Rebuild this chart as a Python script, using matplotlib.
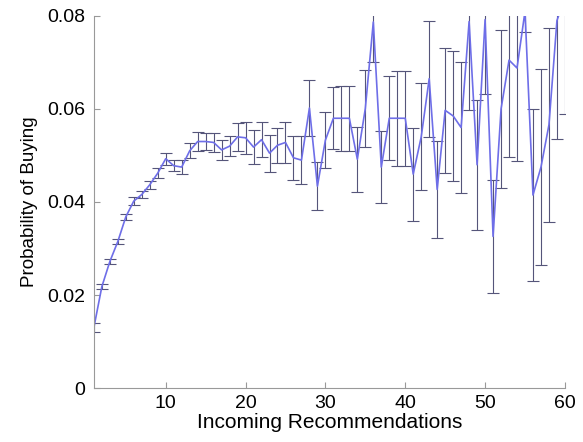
import matplotlib.pyplot as plt

plt.rcParams['font.family'] = ['Liberation Sans', 'DejaVu Sans']

# Data
recs = list(range(1, 61))
prob = [0.0130, 0.0218, 0.0272, 0.0315, 0.0368, 0.0402, 0.0416, 0.0437, 0.0462, 0.0493,
        0.0478, 0.0475, 0.0510, 0.0530, 0.0530, 0.0528, 0.0512, 0.0520, 0.0540, 0.0538,
        0.0518, 0.0534, 0.0505, 0.0522, 0.0528, 0.0495, 0.0490, 0.0602, 0.0434, 0.0533,
        0.0580, 0.0580, 0.0580, 0.0492, 0.0601, 0.0787, 0.0475, 0.0580, 0.0580, 0.0580,
        0.0460, 0.0540, 0.0665, 0.0427, 0.0597, 0.0585, 0.0560, 0.0788, 0.0480, 0.0792,
        0.0326, 0.0600, 0.0705, 0.0688, 0.0810, 0.0415, 0.0475, 0.0566, 0.0790, 0.0840]
err = [0.0009, 0.0006, 0.0006, 0.0006, 0.0007, 0.0008, 0.0008, 0.0009, 0.0010, 0.0013,
       0.0012, 0.0015, 0.0016, 0.0020, 0.0018, 0.0020, 0.0022, 0.0022, 0.0030, 0.0034,
       0.0037, 0.0037, 0.0040, 0.0038, 0.0045, 0.0047, 0.0052, 0.0060, 0.0052, 0.0060,
       0.0067, 0.0070, 0.0070, 0.0070, 0.0083, 0.0087, 0.0077, 0.0090, 0.0102, 0.0102,
       0.0100, 0.0115, 0.0125, 0.0105, 0.0135, 0.0140, 0.0140, 0.0190, 0.0140, 0.0160,
       0.0122, 0.0170, 0.0208, 0.0200, 0.0045, 0.0185, 0.0210, 0.0208, 0.0255, 0.0250]
yticks = [0, 0.02, 0.04, 0.06, 0.08]
ytick_labels = ['0', '0.02', '0.04', '0.06', '0.08']
xticks = [10, 20, 30, 40, 50, 60]

fig = plt.figure(figsize=(5.83, 4.42), dpi=100)
ax = fig.add_axes([0.161, 0.122, 0.808, 0.842])

ax.errorbar(recs, prob, yerr=err, fmt='none', ecolor='#55557a', elinewidth=0.8,
            capsize=4, capthick=0.8)
ax.plot(recs, prob, color='#6e6ee8', lw=1.2)

ax.set_xlim(1, 60)
ax.set_ylim(0, 0.08)
ax.set_xticks(xticks)
ax.set_yticks(yticks)
ax.set_yticklabels(ytick_labels)

for side in ['top', 'right']:
    ax.spines[side].set_visible(False)
for side in ['left', 'bottom']:
    ax.spines[side].set_color('#999999')
    ax.spines[side].set_linewidth(0.8)
ax.tick_params(direction='in', length=4, color='#999999', labelsize=14)
ax.tick_params(axis='x', pad=5)
ax.tick_params(axis='y', pad=6)

ax.set_xlabel('Incoming Recommendations', fontsize=15, labelpad=1)
ax.set_ylabel('Probability of Buying', fontsize=13.5, labelpad=7)

fig.savefig('out.png', dpi=100)
